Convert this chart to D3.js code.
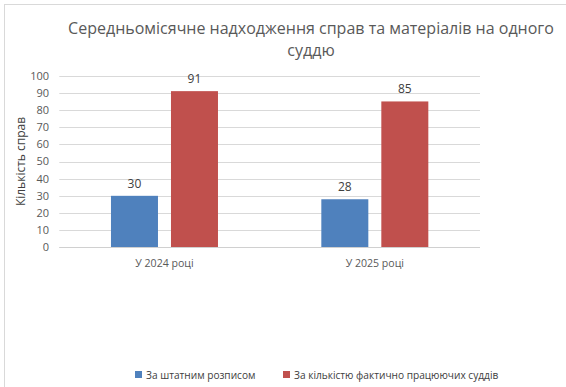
<!DOCTYPE html>
<html>
<head>
<meta charset="utf-8">
<script src="https://cdn.jsdelivr.net/npm/d3@7"></script>
<style>
    body { margin: 0; background: #fff; }
    svg { display: block; font-family: "Open Sans", "Noto Sans", sans-serif; }
</style>
</head>
<body>
<div id="chart"></div>
<script>
const categories = ["У 2024 році", "У 2025 році"];
const seriesNames = ["За штатним розписом", "За кількістю фактично працюючих суддів"];
const staffValues = [30, 28];
const actualValues = [91, 85];
const yTicks = [0, 10, 20, 30, 40, 50, 60, 70, 80, 90, 100];
const titleLines = ["Середньомісячне надходження справ та матеріалів на одного", "суддю"];
const yTitle = "Кількість справ";

const options = {
    width: 566,
    height: 387,
    plotLeft: 59.3,
    plotRight: 480,
    plotTop: 75.7,
    plotBottom: 247.3,
    colors: ["#4F81BD", "#C0504D"],
    gridColor: "#d9d9d9",
    textColor: "#595959",
    labelColor: "#404040"
};

const series = [staffValues, actualValues];

const svg = d3.select("#chart").append("svg")
    .attr("width", options.width)
    .attr("height", options.height);

// chart frame
svg.append("rect")
    .attr("x", 4.5).attr("y", 4.5)
    .attr("width", 640).attr("height", 440)
    .attr("fill", "#fff")
    .attr("stroke", "#d9d9d9");

const x0 = d3.scaleBand()
    .domain(categories)
    .range([options.plotLeft, options.plotRight]);

const x1 = d3.scaleBand()
    .domain(seriesNames)
    .range([x0.bandwidth() / 2 - 53.5, x0.bandwidth() / 2 + 53.5])
    .paddingInner(0.2167);

const y = d3.scaleLinear()
    .domain([0, 100])
    .range([options.plotBottom, options.plotTop]);

// original font is narrower, so squeeze text to a given share of its width
function squeeze(sel, ratio) {
    sel.each(function () {
        let w = this.getComputedTextLength();
        d3.select(this)
            .attr("textLength", w * ratio)
            .attr("lengthAdjust", "spacingAndGlyphs");
    });
}

// gridlines
svg.append("g")
    .selectAll(null)
    .data(yTicks)
    .join("line")
    .attr("x1", options.plotLeft)
    .attr("x2", options.plotRight)
    .attr("y1", d => Math.round(y(d)) + 0.5)
    .attr("y2", d => Math.round(y(d)) + 0.5)
    .attr("stroke", options.gridColor)
    .attr("stroke-width", 1);

// y tick labels
svg.append("g")
    .selectAll(null)
    .data(yTicks)
    .join("text")
    .attr("x", 49)
    .attr("y", d => y(d))
    .attr("dy", "0.35em")
    .attr("text-anchor", "end")
    .attr("font-size", 11)
    .attr("fill", options.textColor)
    .text(d => d);

// bars
const groups = svg.append("g")
    .selectAll(null)
    .data(categories)
    .join("g")
    .attr("transform", d => `translate(${x0(d)},0)`);

groups.selectAll("rect")
    .data((d, i) => series.map((s, k) => ({ name: seriesNames[k], value: s[i], k })))
    .join("rect")
    .attr("x", d => x1(d.name))
    .attr("y", d => y(d.value))
    .attr("width", x1.bandwidth())
    .attr("height", d => y(0) - y(d.value))
    .attr("fill", d => options.colors[d.k]);

groups.selectAll("text")
    .data((d, i) => series.map((s, k) => ({ name: seriesNames[k], value: s[i], k })))
    .join("text")
    .attr("x", d => x1(d.name) + x1.bandwidth() / 2)
    .attr("y", d => y(d.value) - 8)
    .attr("text-anchor", "middle")
    .attr("font-size", 12)
    .attr("fill", options.labelColor)
    .text(d => d.value);

// baseline
svg.append("line")
    .attr("x1", options.plotLeft)
    .attr("x2", options.plotRight)
    .attr("y1", Math.round(y(0)) + 0.5)
    .attr("y2", Math.round(y(0)) + 0.5)
    .attr("stroke", "#d0d0d0");

// category labels
svg.append("g")
    .selectAll(null)
    .data(categories)
    .join("text")
    .attr("x", d => x0(d) + x0.bandwidth() / 2)
    .attr("y", 267)
    .attr("text-anchor", "middle")
    .attr("font-size", 11.5)
    .attr("fill", options.textColor)
    .text(d => d)
    .call(squeeze, 0.92);

// title
svg.append("g")
    .selectAll(null)
    .data(titleLines)
    .join("text")
    .attr("x", 311)
    .attr("y", (d, i) => 34 + i * 22)
    .attr("text-anchor", "middle")
    .attr("font-size", 16)
    .attr("fill", options.textColor)
    .text(d => d)
    .call(squeeze, 1.0);

// y axis title
svg.append("text")
    .attr("transform", `translate(25,${(options.plotTop + options.plotBottom) / 2}) rotate(-90)`)
    .attr("text-anchor", "middle")
    .attr("font-size", 12)
    .attr("fill", options.labelColor)
    .text(yTitle);

// legend
const legendX = [135, 283];
const legend = svg.append("g")
    .selectAll(null)
    .data(seriesNames)
    .join("g")
    .attr("transform", (d, i) => `translate(${legendX[i]},375)`);

legend.append("rect")
    .attr("x", 0).attr("y", -4)
    .attr("width", 7).attr("height", 7)
    .attr("fill", (d, i) => options.colors[i]);

legend.append("text")
    .attr("x", 11)
    .attr("y", 0)
    .attr("dy", "0.35em")
    .attr("font-size", 11)
    .attr("fill", options.labelColor)
    .text(d => d)
    .call(squeeze, 0.92);
</script>
</body>
</html>
